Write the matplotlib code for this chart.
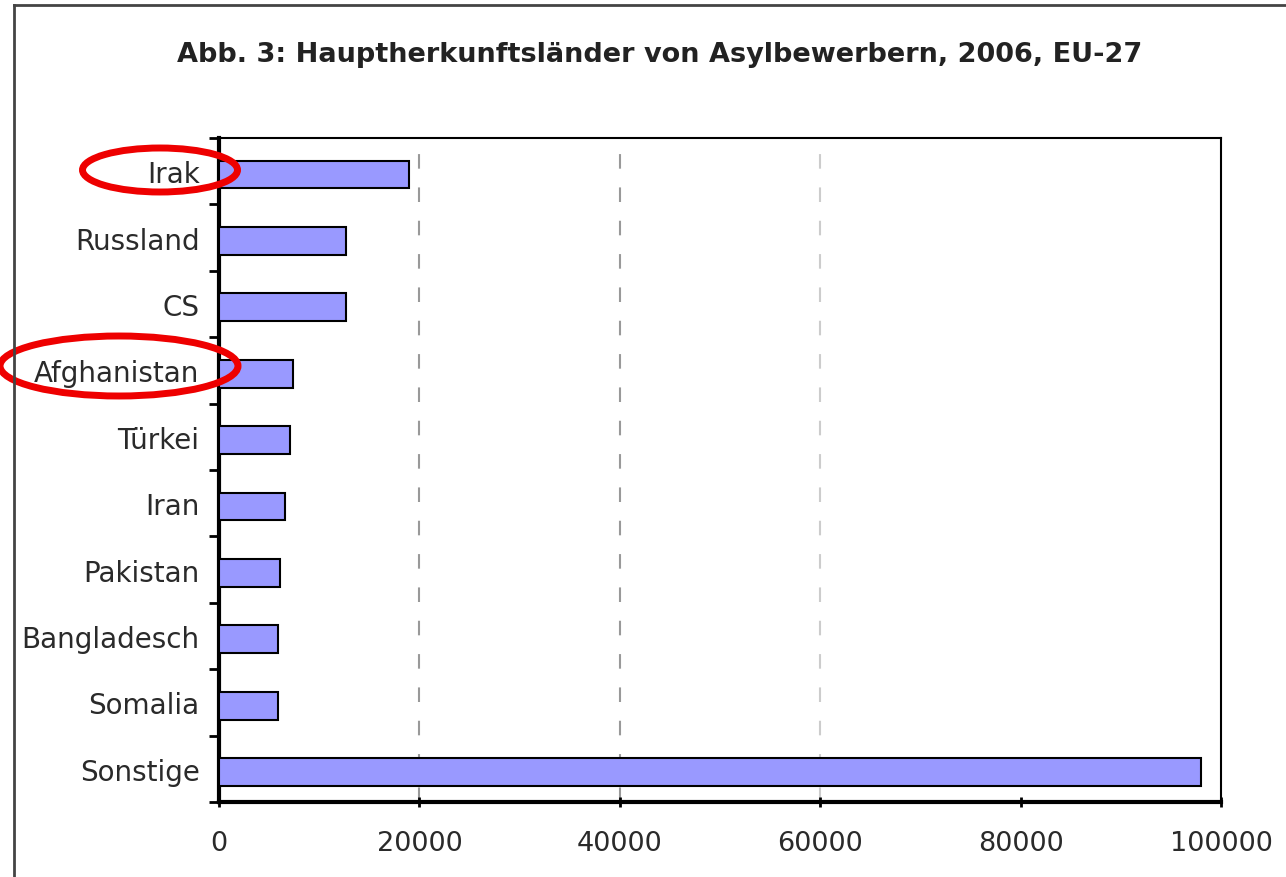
import matplotlib.pyplot as plt
import numpy as np
from matplotlib.patches import Ellipse
from matplotlib.lines import Line2D

# data
countries = ['Irak', 'Russland', 'CS', 'Afghanistan', 'Türkei', 'Iran',
             'Pakistan', 'Bangladesch', 'Somalia', 'Sonstige']
applicants = [19000, 12700, 12700, 7400, 7100, 6600, 6100, 5900, 5900, 98000]
xticks = [0, 20000, 40000, 60000, 80000, 100000]
gridlines = [20000, 40000, 60000]
highlighted = ['Irak', 'Afghanistan']

W, H = 1286, 878
fig = plt.figure(figsize=(W / 100, H / 100), dpi=100)
ax = fig.add_axes([219 / W, 1 - 803 / H, (1221 - 219) / W, (803 - 139) / H])

y = np.arange(len(countries))
ax.barh(y + 0.05, applicants, height=0.42, color='#9999ff', edgecolor='black', linewidth=1.5, zorder=3)
ax.set_ylim(len(countries) - 0.5, -0.5)
ax.set_xlim(0, 100000)

# y ticks at category borders, labels in between
ax.set_yticks(np.arange(len(countries) + 1) - 0.5)
ax.set_yticklabels([])
ax.set_yticks(y, minor=True)
ax.set_yticklabels(countries, minor=True, fontsize=20, color='#2a2a2a')
ax.tick_params(axis='y', which='major', length=7, width=2, direction='out')
ax.tick_params(axis='y', which='minor', length=0, pad=14)

ax.set_xticks(xticks)
ax.set_xticklabels([str(t) for t in xticks], fontsize=19.5, color='#2a2a2a')
ax.tick_params(axis='x', length=7, width=2, direction='inout', pad=17)

grid_colors = ['#999999', '#999999', '#cccccc']
for v, c in zip(gridlines, grid_colors):
    ax.axvline(v, color=c, linestyle=(0, (7, 9)), linewidth=1.5, zorder=1)

for side in ['top', 'right']:
    ax.spines[side].set_linewidth(1.5)
for side in ['left', 'bottom']:
    ax.spines[side].set_linewidth(3)

fig.text(660 / W, 1 - 55 / H, 'Abb. 3: Hauptherkunftsländer von Asylbewerbern, 2006, EU-27',
         ha='center', va='center', fontsize=19.5, fontweight='bold', color='#222222')

# outer frame (only left and top edges are visible)
fig.add_artist(Line2D([14 / W, 14 / W], [0, 1 - 6 / H], color='#444444', linewidth=2))
fig.add_artist(Line2D([14 / W, 1], [1 - 6 / H, 1 - 6 / H], color='#444444', linewidth=2))

# red circles around highlighted labels
ellipses = {'Irak': (160, 171, 155, 44), 'Afghanistan': (119, 367, 238, 60)}
for name in highlighted:
    cx, cy, w, h = ellipses[name]
    fig.add_artist(Ellipse((cx / W, 1 - cy / H), w / W, h / H, transform=fig.transFigure,
                           fill=False, edgecolor='#ee0000', linewidth=5))

fig.savefig('out.png', dpi=100)
